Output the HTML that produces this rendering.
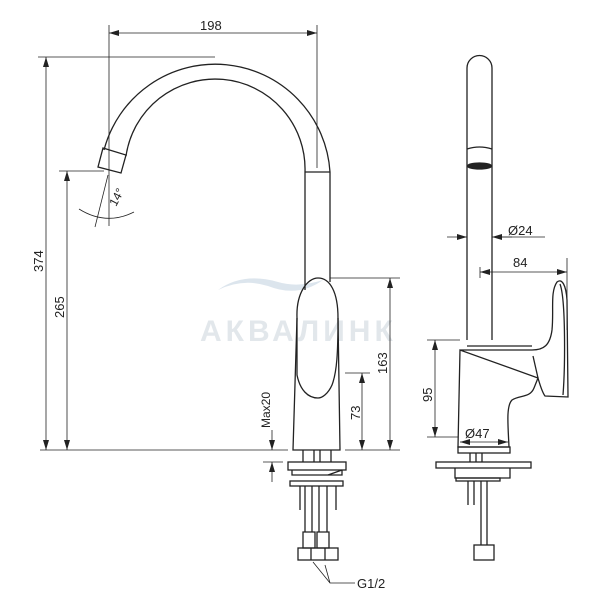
<!DOCTYPE html>
<html><head><meta charset="utf-8"><style>
html,body{margin:0;padding:0;background:#fff}
svg{display:block}
text{font-family:"Liberation Sans",sans-serif;fill:#222}
</style></head><body>
<svg width="600" height="615" viewBox="0 0 600 615" xmlns="http://www.w3.org/2000/svg">
<defs>
<marker id="a" viewBox="0 0 10 6" refX="10" refY="3" markerWidth="10" markerHeight="6" orient="auto-start-reverse" markerUnits="userSpaceOnUse"><path d="M0,0 L10,3 L0,6 z" fill="#222"/></marker>
</defs>
<!-- watermark -->
<g opacity="0.4">
<path d="M218,290 q25,-18 60,-8 q20,6 45,-2 q-25,18 -55,6 q-25,-8 -50,4z" fill="#a9bfd3"/>
<text x="200" y="341" font-size="30" font-weight="bold" style="fill:#b8c4cf;letter-spacing:4px">АКВАЛИНК</text>
</g>
<g fill="none" stroke="#222" stroke-width="1.3">
<!-- spout arcs -->
<path d="M104,150 A115,115 0 0 1 330,172"/>
<path d="M126,156 A90,90 0 0 1 305,172"/>
<path d="M103,148 L126,155 L121,173 L98,167 Z"/>
<line x1="305" y1="172" x2="330" y2="172"/>
<line x1="305" y1="172" x2="305" y2="290"/>
<line x1="330" y1="172" x2="330" y2="282"/>
<!-- body -->
<path d="M297,318 C296,292 308,278 318,278 C330,278 338,292 338,318 C338,352 337,372 332,385 C328,394 322,398 318,398 C308,398 300,390 297,375 Z"/>
<path d="M297,318 L293,450 L340,450 L338,318"/>
<!-- base -->
<path d="M303,450 V462 M331,450 V462 M314,450 V462 M320,450 V462"/>
<rect x="288" y="462" width="58" height="8"/>
<path d="M292,470 V475 H342 V470"/>
<path d="M328,475 L342,470"/>
<rect x="290" y="481" width="53" height="5"/>
<path d="M305,486 V532 M312,486 V532 M319,486 V532 M327,486 V532 M300,486 V510 M336,486 V510"/>
<path d="M303,532 h12 v16 h-12z M317,532 h12 v16 h-12z"/>
<rect x="298" y="548" width="40" height="12"/>
<path d="M311,548 V560 M325,548 V560"/>
<!-- dimensions left -->
<g stroke-width="0.8">
<line x1="109" y1="25" x2="109" y2="226"/>
<line x1="317" y1="25" x2="317" y2="168"/>
<line x1="109" y1="33" x2="317" y2="33" marker-start="url(#a)" marker-end="url(#a)"/>
<line x1="38" y1="57" x2="215" y2="57"/>
<line x1="46" y1="57" x2="46" y2="450" marker-start="url(#a)" marker-end="url(#a)"/>
<line x1="59" y1="171" x2="104" y2="171"/>
<line x1="67" y1="171" x2="67" y2="450" marker-start="url(#a)" marker-end="url(#a)"/>
<line x1="40" y1="450" x2="288" y2="450"/>
<line x1="345" y1="450" x2="400" y2="450"/>
<line x1="108" y1="175" x2="95" y2="227"/>
<path d="M79,209 Q106,226 134,212"/>
<line x1="330" y1="278" x2="400" y2="278"/>
<line x1="390" y1="278" x2="390" y2="450" marker-start="url(#a)" marker-end="url(#a)"/>
<line x1="345" y1="373" x2="370" y2="373"/>
<line x1="362" y1="373" x2="362" y2="450" marker-start="url(#a)" marker-end="url(#a)"/>
<line x1="263" y1="462" x2="283" y2="462"/>
<line x1="272" y1="430" x2="272" y2="450" marker-end="url(#a)"/>
<line x1="272" y1="482" x2="272" y2="462" marker-end="url(#a)"/>
<path d="M355,583 H330 L313,562 M330,583 L325,565"/>
</g>
<!-- right view -->
<path d="M467,340 V68 A12.5,12.5 0 0 1 492,68 V340"/>
<path d="M467,149 Q479.5,145 492,149"/>
<ellipse cx="479.5" cy="166" rx="12" ry="3" fill="#222"/>
<path d="M460,350 L532,350 C544,350 550,345 552,330 C554,310 550,292 557,282 C562,278 566,285 567,300 L568,397 L545,396 C542,392 540,385 538,378 L533,356 M538,378 L534,388 C530,398 520,395 512,400 C506,406 508,425 509,447 L458,447 L460,350 Z"/>
<path d="M560,284 C566,300 565,370 563,395"/>
<path d="M467,346 L532,346"/>
<rect x="458" y="447" width="52" height="6"/>
<path d="M470,453 V462 M476,453 V462 M482,453 V462"/>
<rect x="436" y="462" width="95" height="6"/>
<path d="M455,468 V478 H510 V468"/>
<rect x="456" y="478" width="44" height="3"/>
<path d="M468,481 V505 M474,481 V505 M481,481 V545 M487,481 V545"/>
<rect x="474" y="545" width="20" height="15"/>
<g stroke-width="0.8">
<line x1="447" y1="237" x2="467" y2="237" marker-end="url(#a)"/>
<line x1="512" y1="237" x2="492" y2="237" marker-end="url(#a)"/>
<line x1="492" y1="237" x2="545" y2="237"/>
<line x1="480" y1="267" x2="480" y2="278"/>
<line x1="480" y1="272" x2="567" y2="272" marker-start="url(#a)" marker-end="url(#a)"/>
<line x1="567" y1="258" x2="567" y2="330"/>
<line x1="427" y1="340" x2="460" y2="340"/>
<line x1="435" y1="340" x2="435" y2="437" marker-start="url(#a)" marker-end="url(#a)"/>
<line x1="427" y1="437" x2="458" y2="437"/>
<line x1="460" y1="442" x2="508" y2="442" marker-start="url(#a)" marker-end="url(#a)"/>
</g>
</g>
<text x="200" y="30" font-size="13">198</text>
<text font-size="13" transform="translate(43,272) rotate(-90)">374</text>
<text font-size="13" transform="translate(64,318) rotate(-90)">265</text>
<text font-size="12" transform="translate(116,207) rotate(-62)">14°</text>
<text font-size="13" transform="translate(387,374) rotate(-90)">163</text>
<text font-size="13" transform="translate(360,420) rotate(-90)">73</text>
<text font-size="12" transform="translate(270,428) rotate(-90)">Max20</text>
<text x="357" y="588" font-size="13">G1/2</text>
<text x="508" y="235" font-size="13">Ø24</text>
<text x="513" y="267" font-size="13">84</text>
<text font-size="13" transform="translate(432,402) rotate(-90)">95</text>
<text x="465" y="438" font-size="13">Ø47</text>
</svg>
</body></html>
